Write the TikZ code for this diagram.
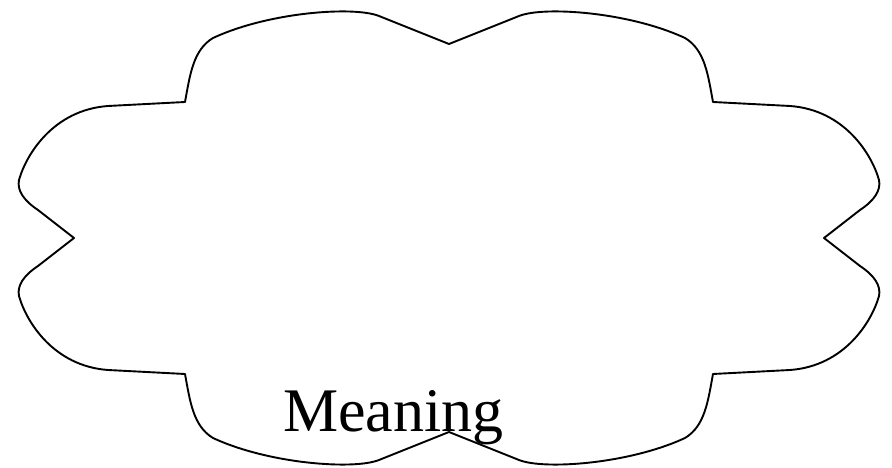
\documentclass[tikz,border=0pt]{standalone}
\usepackage{fontspec}
\setmainfont{Liberation Serif}
\begin{document}
\begin{tikzpicture}[x=1pt,y=1pt,
  cloudline/.style={draw=black, line width=1.9pt, line join=round},
  labeltext/.style={font=\fontsize{62}{62}\selectfont, inner sep=0pt, anchor=base west}]
\useasboundingbox (0,0) rectangle (892,468);
\begin{scope}[shift={(449,230)}]
\draw[cloudline] (0,194) -- (70,222)
  .. controls (95,232) and (180,226) .. (236,200)
  .. controls (256,188) and (259,163) .. (264,136)
  -- (341,132)
  .. controls (396,128) and (423,83) .. (430,58)
  .. controls (432,48) and (426,38) .. (411,28)
  -- (375,0)
  -- (411,-28)
  .. controls (426,-38) and (432,-48) .. (430,-58)
  .. controls (423,-83) and (396,-128) .. (341,-132)
  -- (264,-136)
  .. controls (259,-163) and (256,-188) .. (236,-200)
  .. controls (180,-226) and (95,-232) .. (70,-222)
  -- (0,-194)
  -- (-70,-222)
  .. controls (-95,-232) and (-180,-226) .. (-236,-200)
  .. controls (-256,-188) and (-259,-163) .. (-264,-136)
  -- (-341,-132)
  .. controls (-396,-128) and (-423,-83) .. (-430,-58)
  .. controls (-432,-48) and (-426,-38) .. (-411,-28)
  -- (-375,0)
  -- (-411,28)
  .. controls (-426,38) and (-432,48) .. (-430,58)
  .. controls (-423,83) and (-396,128) .. (-341,132)
  -- (-264,136)
  .. controls (-259,163) and (-256,188) .. (-236,200)
  .. controls (-180,226) and (-95,232) .. (-70,222)
  -- cycle;
\end{scope}
\node[labeltext] (lbl) at (283,36) {Meaning};
\end{tikzpicture}
\end{document}
